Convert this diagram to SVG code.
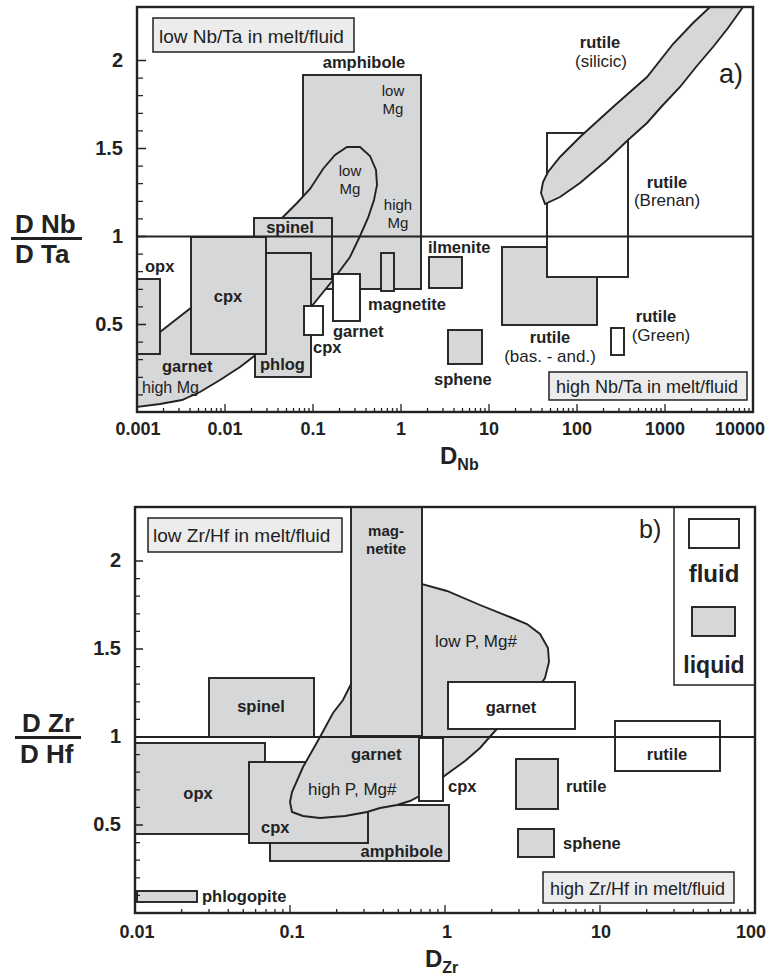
<svg xmlns="http://www.w3.org/2000/svg" width="770" height="980" viewBox="0 0 770 980">
<style>
.g{fill:#d6d7d9;stroke:#222;stroke-width:1.9}
.w{fill:#fff;stroke:#222;stroke-width:1.9}
.lb{fill:#ececec;stroke:#222;stroke-width:1.5}
.fr{fill:none;stroke:#222;stroke-width:2.4}
.ln{fill:none;stroke:#222;stroke-width:1.8}
.tk{fill:none;stroke:#222;stroke-width:1.3}
text{font-family:"Liberation Sans",Arial,Helvetica,sans-serif;fill:#222}
.b{font-weight:bold;font-size:16.5px}
.n{font-size:17px}
.s{font-size:15px}
.c{text-anchor:middle}
.e{text-anchor:end}
.ax{font-weight:bold;font-size:18px;text-anchor:middle}
.ay{font-weight:bold;font-size:20px;text-anchor:end}
.yt{font-weight:bold;font-size:26px}
</style>
<rect width="770" height="980" fill="#fff"/>

<!-- ================= TOP PLOT (a) ================= -->
<g id="plotA">
<g id="a-rutile-bas" class="g"><rect x="502" y="247" width="95" height="78"/></g>
<g id="a-rutile-brenan" class="w"><rect x="547" y="133" width="81" height="144"/></g>
<g id="a-rutile-silicic"><path class="g" d="M545,204 L541,193 L543,182 L548,172 L560,157 L580,137 L613,107 L647,77 L673,44 L693,23 L710,7 L743,7 L728,28 L713,47 L696,67 L680,87 L662,106 L647,123 L628,140 L607,160 L580,183 L560,197 Z"/></g>
<g id="a-amphibole" class="g"><rect x="303" y="75" width="118" height="214"/></g>
<g id="a-garnet-liquid"><path class="g" d="M137,352 L160,332 L192,307 L283,217 L297,203 L310,189 L323,169 L335,155 L347,147 L360,147 L370,156 L376,170 L377,185 L374,200 L368,218 L360,236 L350,257 L333,280 L311,307 L285,332 L257,354 L240,367 L220,380 L200,392 L182,400 L160,404 L137,407 Z"/></g>
<g id="a-spinel" class="g"><rect x="254" y="218" width="78" height="61"/></g>
<g id="a-phlog" class="g"><rect x="255" y="253" width="56" height="124"/></g>
<g id="a-cpx" class="g"><rect x="191" y="237" width="75" height="117"/></g>
<g id="a-opx" class="g"><rect x="137" y="279" width="23" height="75"/></g>
<g id="a-magnetite" class="g"><rect x="381" y="253" width="13" height="38"/></g>
<g id="a-garnet-fluid" class="w"><rect x="333" y="274" width="27" height="47"/></g>
<g id="a-cpx-fluid" class="w"><rect x="304" y="306" width="19" height="29"/></g>
<g id="a-ilmenite" class="g"><rect x="429" y="257" width="33" height="31"/></g>
<g id="a-sphene" class="g"><rect x="448" y="330" width="34" height="34"/></g>
<g id="a-rutile-green" class="w"><rect x="611" y="328" width="13" height="27"/></g>
<g id="a-box-low"><rect class="lb" x="153" y="18" width="201" height="34"/><text x="159" y="43" style="font-size:19px">low Nb/Ta in melt/fluid</text></g>
<g id="a-box-high"><rect class="lb" x="549" y="372" width="198" height="28"/><text x="556" y="393" style="font-size:18px">high Nb/Ta in melt/fluid</text></g>

<g id="a-labels">
<text class="b c" x="364" y="68">amphibole</text>
<text class="s c" x="393" y="96">low</text>
<text class="s c" x="393" y="114">Mg</text>
<text class="s c" x="350" y="176">low</text>
<text class="s c" x="350" y="194">Mg</text>
<text class="s c" x="398" y="210">high</text>
<text class="s c" x="398" y="228">Mg</text>
<text class="b c" x="600" y="48">rutile</text>
<text class="n c" x="601" y="67">(silicic)</text>
<text x="719" y="83" style="font-size:27px">a)</text>
<text class="b c" x="667" y="188">rutile</text>
<text class="n c" x="667" y="206">(Brenan)</text>
<text class="b c" x="290" y="233">spinel</text>
<text class="b" x="145" y="272">opx</text>
<text class="b c" x="228" y="302">cpx</text>
<text class="b" x="428" y="253">ilmenite</text>
<text class="b" x="368" y="310">magnetite</text>
<text class="b" x="333" y="337">garnet</text>
<text class="b" x="313" y="353">cpx</text>
<text class="b" x="260" y="370">phlog</text>
<text class="b" x="162" y="372">garnet</text>
<text x="142" y="393" style="font-size:16px">high Mg</text>
<text class="b c" x="550" y="343">rutile</text>
<text class="n c" x="550" y="362">(bas. - and.)</text>
<text class="b c" x="656" y="322">rutile</text>
<text class="n c" x="661" y="341">(Green)</text>
<text class="b" x="434" y="385">sphene</text>
</g>

<g id="a-connectors">
<line class="ln" x1="137" y1="236.5" x2="753" y2="236.5"/>
<rect class="fr" x="137" y="7" width="616" height="405"/>
<path class="tk" d="M137,60.5h9M137,148.5h9M137,236.5h9M137,324.5h9
M137,78.1h6M137,95.7h6M137,113.3h6M137,130.9h6M137,166.1h6M137,183.7h6M137,201.3h6M137,218.9h6M137,254.1h6M137,271.7h6M137,289.3h6M137,306.9h6M137,342.1h6M137,359.7h6M137,377.3h6M137,394.9h6"/>
<path class="tk" d="M225,412v-8M313,412v-8M401,412v-8M489,412v-8M577,412v-8M665,412v-8
M163.5,412v-4M179,412v-4M190,412v-4M198.5,412v-4M205.5,412v-4M211.4,412v-4M216.5,412v-4M221,412v-4
M251.5,412v-4M267,412v-4M278,412v-4M286.5,412v-4M293.5,412v-4M299.4,412v-4M304.5,412v-4M309,412v-4
M339.5,412v-4M355,412v-4M366,412v-4M374.5,412v-4M381.5,412v-4M387.4,412v-4M392.5,412v-4M397,412v-4
M427.5,412v-4M443,412v-4M454,412v-4M462.5,412v-4M469.5,412v-4M475.4,412v-4M480.5,412v-4M485,412v-4
M515.5,412v-4M531,412v-4M542,412v-4M550.5,412v-4M557.5,412v-4M563.4,412v-4M568.5,412v-4M573,412v-4
M603.5,412v-4M619,412v-4M630,412v-4M638.5,412v-4M645.5,412v-4M651.4,412v-4M656.5,412v-4M661,412v-4
M691.5,412v-4M707,412v-4M718,412v-4M726.5,412v-4M733.5,412v-4M739.4,412v-4M744.5,412v-4M749,412v-4"/>
</g>

<g id="a-axes">
<text class="ay" x="123" y="67">2</text>
<text class="ay" x="123" y="155">1.5</text>
<text class="ay" x="123" y="243">1</text>
<text class="ay" x="123" y="331">0.5</text>
<text class="ax" x="138" y="435">0.001</text>
<text class="ax" x="225" y="435">0.01</text>
<text class="ax" x="313" y="435">0.1</text>
<text class="ax" x="401" y="435">1</text>
<text class="ax" x="489" y="435">10</text>
<text class="ax" x="577" y="435">100</text>
<text class="ax" x="665" y="435">1000</text>
<text class="ax" x="740" y="435">10000</text>
<text class="yt" x="15" y="233">D Nb</text>
<line x1="11" y1="238.5" x2="82" y2="238.5" stroke="#222" stroke-width="3"/>
<text class="yt" x="15" y="263">D Ta</text>
<text x="440" y="464" style="font-size:24px;font-weight:bold">D<tspan dy="6" style="font-size:16px">Nb</tspan></text>
</g>
</g>

<!-- ================= BOTTOM PLOT (b) ================= -->
<g id="plotB">
<g id="b-legend"><rect x="674" y="507" width="81" height="178" fill="#fff" stroke="#222" stroke-width="1.5"/>
<rect class="w" x="689" y="519" width="50" height="29"/>
<text class="c" x="714" y="582" style="font-size:24px;font-weight:bold">fluid</text>
<rect class="g" x="692" y="607" width="43" height="29"/>
<text class="c" x="714" y="673" style="font-size:23px;font-weight:bold">liquid</text></g>
<g id="b-opx" class="g"><rect x="135" y="743" width="130" height="91"/></g>
<g id="b-amphibole" class="g"><rect x="270" y="805" width="179" height="56"/></g>
<g id="b-cpx" class="g"><rect x="249" y="762" width="119" height="81"/></g>
<g id="b-phlogopite" class="g"><rect x="137" y="891" width="60" height="11"/></g>
<g id="b-spinel" class="g"><rect x="209" y="678" width="105" height="59"/></g>
<g id="b-garnet-liquid"><path class="g" d="M292,812 L290,802 L292,792 L303,767 L320,737 L333,713 L343,700 L351,684 L390,630 L422,584 L447,591 L480,605 L510,617 L527,624 L540,634 L548,648 L549,662 L545,678 L535,692 L510,715 L495,731 L480,748 L465,761 L443,777 L425,793 L410,801 L397,805 L380,808 L367,812 L345,816 L320,818 L303,816 Z"/></g>
<g id="b-magnetite" class="g"><rect x="351" y="507" width="71" height="229"/></g>
<g id="b-garnet-fluid" class="w"><rect x="448" y="682" width="127" height="47"/></g>
<g id="b-cpx-fluid" class="w"><rect x="419" y="738" width="24" height="63"/></g>
<g id="b-rutile-liquid" class="g"><rect x="516" y="759" width="42" height="50"/></g>
<g id="b-sphene" class="g"><rect x="518" y="829" width="36" height="28"/></g>
<g id="b-rutile-fluid" class="w"><rect x="615" y="721" width="105" height="50"/></g>
<g id="b-box-low"><rect class="lb" x="148" y="518" width="194" height="34"/><text x="153" y="542" style="font-size:19px">low Zr/Hf in melt/fluid</text></g>
<g id="b-box-high"><rect class="lb" x="543" y="872" width="191" height="31"/><text x="550" y="895" style="font-size:18px">high Zr/Hf in melt/fluid</text></g>

<g id="b-labels">
<text class="c" x="386" y="536" style="font-size:15px;font-weight:bold">mag-</text>
<text class="c" x="386" y="554" style="font-size:15px;font-weight:bold">netite</text>
<text x="639" y="538" style="font-size:25px">b)</text>
<text class="n" x="435" y="647">low P, Mg#</text>
<text class="b c" x="261" y="712">spinel</text>
<text class="b c" x="511" y="713">garnet</text>
<text class="b c" x="667" y="760">rutile</text>
<text class="b" x="351" y="760">garnet</text>
<text class="b c" x="198" y="799">opx</text>
<text class="n" x="308" y="795">high P, Mg#</text>
<text class="b" x="448" y="792">cpx</text>
<text class="b" x="566" y="792">rutile</text>
<text class="b" x="261" y="833">cpx</text>
<text class="b" x="563" y="849">sphene</text>
<text class="b e" x="443" y="857">amphibole</text>
<text class="b" x="202" y="902">phlogopite</text>
</g>

<g id="b-connectors">
<line class="ln" x1="135" y1="737" x2="755" y2="737"/>
<rect class="fr" x="135" y="507" width="620" height="406"/>
<path class="tk" d="M135,561h8M135,649h8M135,737h8M135,825h8
M135,578.6h5M135,596.2h5M135,613.8h5M135,631.4h5M135,666.6h5M135,684.2h5M135,701.8h5M135,719.4h5M135,754.6h5M135,772.2h5M135,789.8h5M135,807.4h5M135,842.6h5M135,860.2h5M135,877.8h5M135,895.4h5"/>
<path class="tk" d="M290,913v-8M445,913v-8M600,913v-8
M181.7,913v-4M209,913v-4M228.3,913v-4M243.3,913v-4M255.6,913v-4M266,913v-4M275,913v-4M282.9,913v-4
M336.7,913v-4M364,913v-4M383.3,913v-4M398.3,913v-4M410.6,913v-4M421,913v-4M430,913v-4M437.9,913v-4
M491.7,913v-4M519,913v-4M538.3,913v-4M553.3,913v-4M565.6,913v-4M576,913v-4M585,913v-4M592.9,913v-4
M646.7,913v-4M674,913v-4M693.3,913v-4M708.3,913v-4M720.6,913v-4M731,913v-4M740,913v-4M747.9,913v-4"/>
</g>

<g id="b-axes">
<text class="ay" x="121" y="567">2</text>
<text class="ay" x="121" y="655">1.5</text>
<text class="ay" x="121" y="743">1</text>
<text class="ay" x="121" y="831">0.5</text>
<text class="ax" x="137" y="938">0.01</text>
<text class="ax" x="292" y="938">0.1</text>
<text class="ax" x="447" y="938">1</text>
<text class="ax" x="601" y="938">10</text>
<text class="ax" x="751" y="938">100</text>
<text class="yt" x="22" y="732">D Zr</text>
<line x1="15" y1="737.5" x2="81" y2="737.5" stroke="#222" stroke-width="3"/>
<text class="yt" x="20" y="763">D Hf</text>
<text x="425" y="967" style="font-size:24px;font-weight:bold">D<tspan dy="6" style="font-size:16px">Zr</tspan></text>
</g>
</g>
</svg>
